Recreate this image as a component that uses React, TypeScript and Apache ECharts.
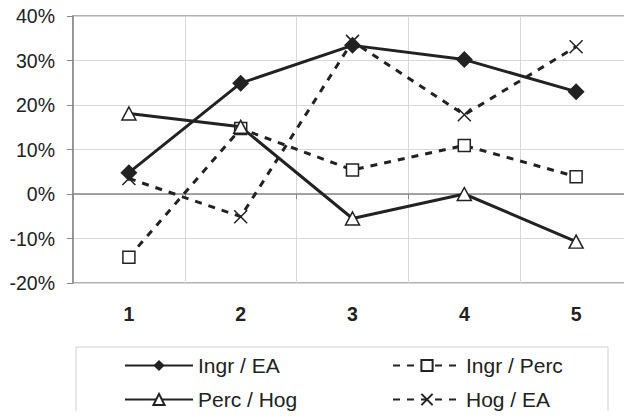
import React, { useEffect, useRef } from "react";
import * as echarts from "echarts";

const categories = ["1", "2", "3", "4", "5"];
const ingrEA = [4.8, 24.9, 33.4, 30.2, 23.0];
const ingrPerc = [-14.2, 14.7, 5.4, 10.9, 3.9];
const percHog = [18.1, 15.1, -5.5, 0.0, -10.7];
const hogEA = [3.5, -5.1, 34.3, 17.8, 33.1];
const seriesNames = ["Ingr / EA", "Ingr / Perc", "Perc / Hog", "Hog / EA"];

const INK = "#222";
const FONT = "'Liberation Sans', Arial, sans-serif";

export default function App() {
  const ref = useRef<HTMLDivElement>(null);
  useEffect(() => {
    if (!ref.current) return;
    const chart = echarts.init(ref.current, null, { renderer: "svg" });
    const legendItem = (name: string, left: number, top: number) => ({
      data: [name],
      left,
      top,
      padding: 0,
      itemWidth: 68,
      itemHeight: 14,
      itemGap: 0,
      selectedMode: false,
      textStyle: { fontFamily: FONT, fontSize: 21, color: INK },
    });
    chart.setOption({
      animation: false,
      backgroundColor: "#fff",
      textStyle: { fontFamily: FONT },
      grid: {
        left: 73,
        top: 16,
        width: 567,
        height: 267,
        show: true,
        borderColor: "#999",
        borderWidth: 1.5,
      },
      graphic: [
        {
          type: "rect",
          shape: { x: 76, y: 347, width: 532, height: 90 },
          style: { fill: "none", stroke: "#d0d0d0", lineWidth: 1 },
          silent: true,
        },
      ],
      legend: [
        legendItem(seriesNames[0], 124, 355),
        legendItem(seriesNames[1], 392, 355),
        legendItem(seriesNames[2], 124, 389),
        legendItem(seriesNames[3], 392, 389),
      ],
      xAxis: {
        type: "category",
        data: categories,
        boundaryGap: true,
        axisLine: { lineStyle: { color: "#888", width: 1.5 } },
        axisTick: { show: true, length: 5, alignWithLabel: false, lineStyle: { color: "#888" } },
        axisLabel: { fontFamily: FONT, fontSize: 19.5, fontWeight: "bold", color: INK, margin: 21 },
        splitLine: { show: true, lineStyle: { color: "#d8d8d8", width: 1 } },
      },
      yAxis: {
        type: "value",
        min: -20,
        max: 40,
        interval: 10,
        axisLine: { show: true, lineStyle: { color: "#888", width: 1.5 } },
        axisTick: { show: true, length: 6, lineStyle: { color: "#888" } },
        axisLabel: { formatter: "{value}%", fontFamily: FONT, fontSize: 19.5, color: INK, margin: 18 },
        splitLine: { show: true, lineStyle: { color: "#d8d8d8", width: 1 } },
      },
      series: [
        {
          name: seriesNames[0],
          type: "line",
          data: ingrEA,
          symbol: "diamond",
          symbolSize: 17,
          lineStyle: { color: INK, width: 3 },
          itemStyle: { color: INK, borderColor: INK, borderWidth: 0 },
          z: 4,
        },
        {
          name: seriesNames[1],
          type: "line",
          data: ingrPerc,
          symbol: "rect",
          symbolSize: 12,
          lineStyle: { color: INK, width: 3, type: [7, 7] },
          itemStyle: { color: "#fff", borderColor: INK, borderWidth: 1.5 },
          z: 2,
        },
        {
          name: seriesNames[2],
          type: "line",
          data: percHog,
          symbol: "triangle",
          symbolSize: [14, 13],
          lineStyle: { color: INK, width: 3 },
          itemStyle: { color: "#fff", borderColor: INK, borderWidth: 1.5 },
          z: 3,
        },
        {
          name: seriesNames[3],
          type: "line",
          data: hogEA,
          symbol: "path://M0,0L1,1M1,0L0,1",
          symbolSize: 13,
          lineStyle: { color: INK, width: 3, type: [7, 7] },
          itemStyle: { color: "none", borderColor: INK, borderWidth: 1.5 },
          z: 2,
        },
      ],
    });
    return () => chart.dispose();
  }, []);
  return <div ref={ref} style={{ width: 632, height: 419, margin: -8 }} />;
}
